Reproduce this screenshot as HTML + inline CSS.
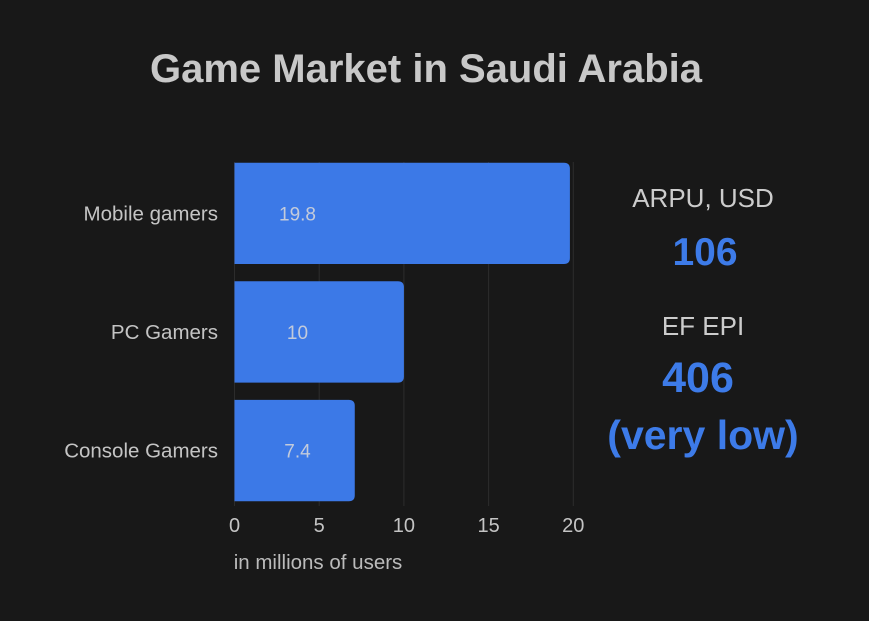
<!DOCTYPE html>
<html><head><meta charset="utf-8"><style>
body{margin:0;background:#181818;width:869px;height:616px;overflow:hidden;font-family:"Liberation Sans","DejaVu Sans",sans-serif}
</style></head><body>
<svg width="869" height="616" xmlns="http://www.w3.org/2000/svg">
<rect width="869" height="616" fill="#181818"/>
<text x="426" y="82" text-anchor="middle" font-size="40" font-weight="bold" fill="#c8c8c8">Game Market in Saudi Arabia</text>
<g id="grid"></g><g id="bars"></g><g id="ticks"></g>
<text x="318" y="569" text-anchor="middle" font-size="20.5" fill="#bbbbbb">in millions of users</text>
<text x="703" y="207" text-anchor="middle" font-size="26" fill="#cccccc">ARPU, USD</text>
<text x="705" y="265" text-anchor="middle" font-size="39" font-weight="bold" fill="#3d7be8">106</text>
<text x="703" y="335" text-anchor="middle" font-size="26" fill="#cccccc">EF EPI</text>
<text x="698" y="392" text-anchor="middle" font-size="43" font-weight="bold" fill="#3d7be8">406</text>
<text x="703" y="449" text-anchor="middle" font-size="41" font-weight="bold" fill="#3d7be8">(very low)</text>
</svg>
<script>
const categories=["Mobile gamers","PC Gamers","Console Gamers"];
const values=[19.8,10,7.1];
const valueLabels=["19.8","10","7.4"];
const ticks=[0,5,10,15,20];
const NS="http://www.w3.org/2000/svg";
const x0=234.5,sc=16.94,top0=162.7,step=118.6,bh=101.3;
const xs=v=>x0+v*sc;
function mk(t,a,p){const e=document.createElementNS(NS,t);for(const k in a)e.setAttribute(k,a[k]);p.appendChild(e);return e;}
const g=document.getElementById('grid'),b=document.getElementById('bars'),tk=document.getElementById('ticks');
ticks.forEach(t=>{
 const l=mk('line',{x1:xs(t),x2:xs(t),y1:162,y2:506,stroke:'#2c2c2c','stroke-width':1},g);
 
 
 const tx=mk('text',{x:xs(t),y:532,'text-anchor':'middle','font-size':20,fill:'#c4c4c4'},tk);
 tx.textContent=t;
 
 
});
categories.forEach((c,i)=>{
 const y=top0+i*step,w=values[i]*sc,r=6;
 const p=mk('path',{d:`M${x0},${y}H${x0+w-r}Q${x0+w},${y} ${x0+w},${y+r}V${y+bh-r}Q${x0+w},${y+bh} ${x0+w-r},${y+bh}H${x0}Z`,fill:'#3c79e7'},b);
 
 
 const v=mk('text',{x:x0+63,y:y+bh/2+7,'text-anchor':'middle','font-size':19,fill:'#c3cbdb'},b);
 v.textContent=valueLabels[i];
 
 
 const cl=mk('text',{x:218,y:y+bh/2+7,'text-anchor':'end','font-size':20.5,fill:'#c4c4c4'},b);
 cl.textContent=c;
 
 
});
</script>
</body></html>
